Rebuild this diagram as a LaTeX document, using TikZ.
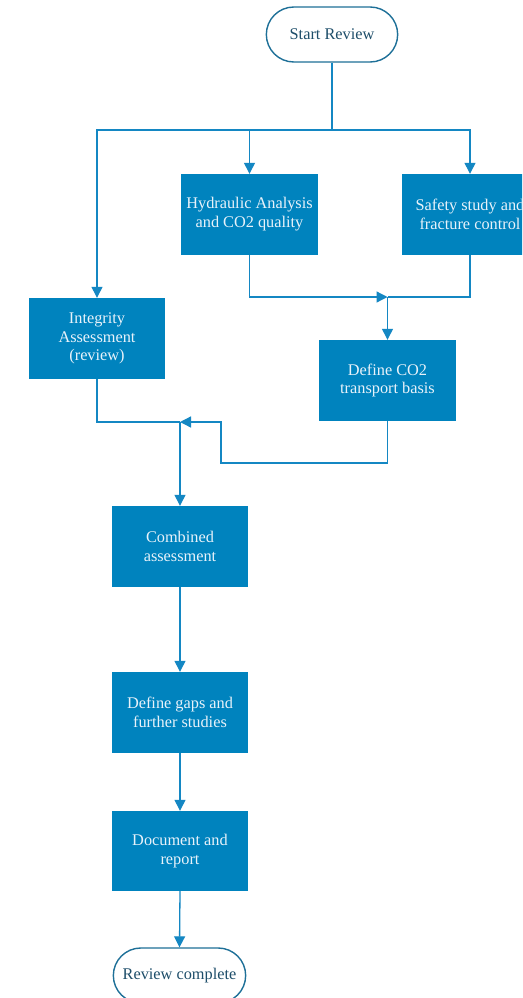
\documentclass[tikz,border=0pt]{standalone}
\usepackage{fontspec}
\setmainfont{Liberation Serif}
\usetikzlibrary{arrows.meta,shapes.misc}
\definecolor{boxblue}{RGB}{0,131,190}
\definecolor{lineblue}{RGB}{20,135,195}
\definecolor{termborder}{RGB}{30,112,152}
\definecolor{termtext}{RGB}{30,78,106}
\definecolor{boxtext}{RGB}{232,242,250}
\tikzset{
  procbox/.style={rectangle, fill=boxblue, draw=none, text=boxtext, minimum width=136pt, minimum height=81pt, align=center, inner sep=2pt, font=\fontsize{16.3}{18.8}\selectfont},
  termbox/.style={rounded rectangle, draw=termborder, line width=1.4pt, fill=white, text=termtext, minimum width=138pt, minimum height=55pt, align=center, font=\fontsize{16.3}{18.8}\selectfont},
  conn/.style={draw=lineblue, line width=1.3pt},
  arr/.style={conn, -{Triangle[length=11pt,width=11pt]}}
}
\begin{document}
\begin{tikzpicture}[x=1pt,y=-1pt]
\clip (0,0) rectangle (522,998);
\fill[white] (0,0) rectangle (522,998);
\node[termbox] (start) at (332,34.5) {Start Review};
\node[procbox, minimum width=137pt] (hyd) at (249.5,214.5) {Hydraulic Analysis\\and CO2 quality};
\node[procbox] (saf) at (470,214.5) {Safety study and\\fracture control};
\node[procbox] (integ) at (97,338.5) {Integrity\\Assessment\\(review)};
\node[procbox, minimum width=137pt] (def) at (387.5,380.5) {Define CO2\\transport basis};
\node[procbox] (comb) at (180,546.5) {Combined\\assessment};
\node[procbox] (gaps) at (180,712.5) {Define gaps and\\further studies};
\node[procbox, minimum height=80pt] (doc) at (180,851) {Document and\\report};
\node[termbox, minimum width=139pt] (end) at (179.5,975.5) {Review complete};
\coordinate (split) at (332,130);
\coordinate (m1) at (387.5,297);
\coordinate (m2) at (180,422);
\coordinate (d1) at (387.5,463);
\coordinate (d2) at (221,463);
\coordinate (d3) at (221,422);
\draw[conn] (start.south) -- (split);
\draw[arr] (split) -| (integ.north);
\draw[arr] (split) -| (saf.north);
\draw[arr] (split -| hyd.north) -- (hyd.north);
\draw[arr] (hyd.south) |- (m1);
\draw[conn] (saf.south) |- (m1);
\draw[arr] (m1) -- (def.north);
\draw[conn] (integ.south) |- (m2);
\draw[arr] (def.south) -- (d1) -- (d2) -- (d3) -- (m2);
\draw[arr] (m2) -- (comb.north);
\draw[arr] (comb.south) -- (gaps.north);
\draw[arr] (gaps.south) -- (doc.north);
\draw[arr] (doc.south) -- (end.north);
\end{tikzpicture}
\end{document}
